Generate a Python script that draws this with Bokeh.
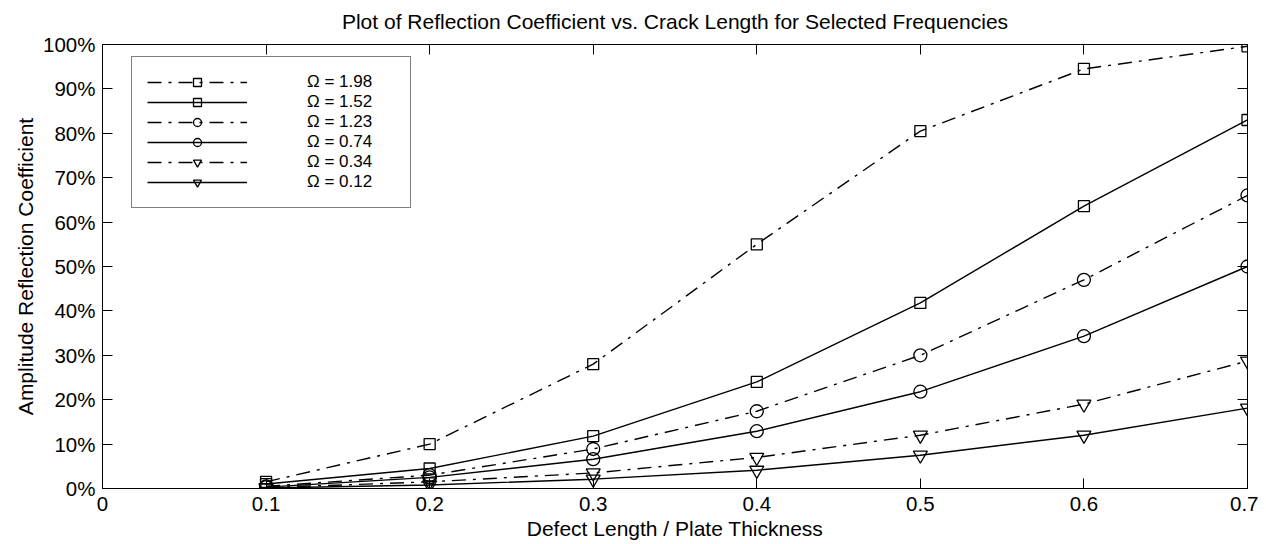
from bokeh.plotting import figure
from bokeh.models import (Range1d, LinearAxis, FixedTicker, PrintfTickFormatter,
                          CustomJSTickFormatter, Legend, LegendItem)
from bokeh.embed import file_html
from bokeh.resources import INLINE

# ---- data ----
x_ratio = [0.1, 0.2, 0.3, 0.4, 0.5, 0.6, 0.7]
omega_198 = [1.5, 10.0, 28.0, 55.0, 80.5, 94.5, 99.6]
omega_152 = [1.0, 4.5, 11.8, 24.0, 41.8, 63.6, 83.0]
omega_123 = [0.5, 3.0, 8.9, 17.4, 30.0, 47.0, 66.0]
omega_074 = [0.3, 2.5, 6.6, 12.9, 21.8, 34.3, 50.0]
omega_034 = [0.2, 1.5, 3.5, 7.0, 12.0, 19.0, 28.7]
omega_012 = [0.1, 0.8, 2.1, 4.1, 7.5, 12.0, 18.1]

series_labels = ["Ω = 1.98", "Ω = 1.52", "Ω = 1.23", "Ω = 0.74", "Ω = 0.34", "Ω = 0.12"]
x_ticks = [0, 0.1, 0.2, 0.3, 0.4, 0.5, 0.6, 0.7]
y_ticks = [0, 10, 20, 30, 40, 50, 60, 70, 80, 90, 100]

FONT = "Liberation Sans"
DASHDOT = "14 7 3 7"

p = figure(frame_width=1145, frame_height=444, min_border_left=102, min_border_top=44,
           min_border_right=11, min_border_bottom=52,
           x_range=Range1d(0, 0.7), y_range=Range1d(0, 100),
           output_backend="svg", toolbar_location=None,
           title="Plot of Reflection Coefficient vs. Crack Length for Selected Frequencies")

p.title.text_font = FONT
p.title.text_font_size = "21px"
p.title.text_font_style = "normal"
p.title.align = "center"
p.title.text_color = "black"
p.title.standoff = 19
p.title.vertical_align = "top"

p.xgrid.visible = False
p.ygrid.visible = False
p.outline_line_color = "black"
p.outline_line_width = 1

p.xaxis.ticker = FixedTicker(ticks=x_ticks)
p.yaxis.ticker = FixedTicker(ticks=y_ticks)
p.yaxis.formatter = PrintfTickFormatter(format="%d%%")
p.xaxis.axis_label = "Defect Length / Plate Thickness"
p.yaxis.axis_label = "Amplitude Reflection Coefficient"

for ax in [p.xaxis[0], p.yaxis[0]]:
    ax.major_tick_in = 10
    ax.major_tick_out = 0
    ax.minor_tick_in = 0
    ax.minor_tick_out = 0
    ax.axis_line_color = "black"
    ax.major_tick_line_color = "black"
    ax.major_label_text_font = FONT
    ax.major_label_text_font_size = "20.5px"
    ax.major_label_text_color = "black"
    ax.axis_label_text_font = FONT
    ax.axis_label_text_font_size = "21px"
    ax.axis_label_text_font_style = "normal"
    ax.axis_label_text_color = "black"
p.xaxis.major_label_standoff = 8
p.xaxis.axis_label_standoff = 3
p.yaxis.major_label_standoff = 7
p.yaxis.axis_label_standoff = 3

blank = CustomJSTickFormatter(code="return ''")
top_ax = LinearAxis(ticker=FixedTicker(ticks=x_ticks), formatter=blank,
                    major_tick_in=10, major_tick_out=0, minor_tick_in=0, minor_tick_out=0,
                    major_label_standoff=0, axis_line_color="black")
right_ax = LinearAxis(ticker=FixedTicker(ticks=y_ticks), formatter=blank,
                      major_tick_in=10, major_tick_out=0, minor_tick_in=0, minor_tick_out=0,
                      major_label_standoff=0, axis_line_color="black")
p.add_layout(top_ax, "above")
p.add_layout(right_ax, "right")

specs = [
    (omega_198, DASHDOT, "square", 11),
    (omega_152, "solid", "square", 11),
    (omega_123, DASHDOT, "circle", 13),
    (omega_074, "solid", "circle", 13),
    (omega_034, DASHDOT, "inverted_triangle", 14),
    (omega_012, "solid", "inverted_triangle", 14),
]

items = []
for (ys, dash, marker, size), lab in zip(specs, series_labels):
    r1 = p.line(x_ratio, ys, line_color="black", line_width=1.4, line_dash=dash)
    r2 = p.scatter(x_ratio, ys, marker=marker, size=size, fill_color=None,
                   line_color="black", line_width=1.3)
    items.append(LegendItem(label=lab, renderers=[r1, r2]))

legend = Legend(items=items, location=(29, 280), glyph_width=100, glyph_height=20,
                label_height=20, spacing=0, padding=15, margin=0, label_standoff=60,
                label_width=88, label_text_font=FONT, label_text_font_size="17px",
                label_text_color="black", border_line_color="black", border_line_width=1,
                background_fill_color="white", background_fill_alpha=1.0)
p.add_layout(legend, "center")

open("out.html", "w").write(file_html(p, INLINE))
